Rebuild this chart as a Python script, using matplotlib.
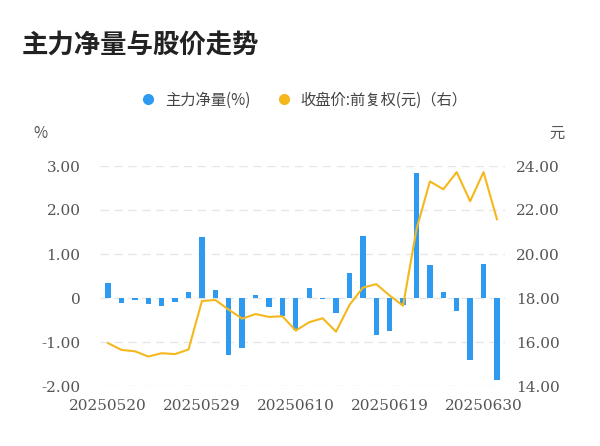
import matplotlib
matplotlib.use("Agg")
import matplotlib.pyplot as plt
from matplotlib.lines import Line2D
from matplotlib import font_manager as fm

cjk = None
for f in fm.fontManager.ttflist:
    if "CJK" in f.name and ("SC" in f.name or cjk is None):
        cjk = f.name
if cjk is None:
    for f in fm.findSystemFonts():
        if "CJK" in f or "Noto" in f and "SC" in f:
            fm.fontManager.addfont(f)
            cjk = fm.FontProperties(fname=f).get_name()
            break
plt.rcParams['font.family'] = [cjk or 'Noto Sans CJK SC', 'DejaVu Sans']

dates = ["20250520","20250521","20250522","20250523","20250526","20250527","20250528","20250529",
         "20250530","20250603","20250604","20250605","20250606","20250609","20250610","20250611",
         "20250612","20250613","20250616","20250617","20250618","20250619","20250620","20250623",
         "20250624","20250625","20250626","20250627","20250630","20250701"]
net_flow = [0.34,-0.12,-0.05,-0.13,-0.18,-0.08,0.14,1.38,0.19,-1.30,-1.13,0.06,-0.20,-0.40,-0.72,
            0.22,-0.02,-0.33,0.57,1.40,-0.85,-0.74,-0.17,2.83,0.75,0.13,-0.30,-1.40,0.77,-1.87]
price = [15.95,15.64,15.58,15.34,15.49,15.45,15.66,17.86,17.91,17.47,17.06,17.27,17.14,17.17,16.52,
         16.90,17.08,16.47,17.68,18.47,18.63,18.11,17.65,21.13,23.30,22.94,23.72,22.40,23.72,21.58]
left_ticks = [-2, -1, 0, 1, 2, 3]
left_labels = ["-2.00", "-1.00", "0", "1.00", "2.00", "3.00"]
right_ticks = [14, 16, 18, 20, 22, 24]
right_labels = ["14.00", "16.00", "18.00", "20.00", "22.00", "24.00"]
label_idx = [0, 7, 14, 21, 28]

fig = plt.figure(figsize=(6.0, 4.46), dpi=100)
ax = fig.add_axes([100/600, 1-386/446, 405/600, 220/446])
x = list(range(len(dates)))
ax.bar(x, net_flow, width=0.4, color="#2e9bf0", zorder=3)
ax.set_ylim(-2, 3)
ax.set_xlim(-0.6, len(dates)-0.4)
ax.set_yticks(left_ticks)
ax.set_yticklabels(left_labels)
ax.set_xticks(label_idx)
ax.set_xticklabels([dates[i] for i in label_idx])
ax.grid(axis='y', color="#e6e6e6", linestyle=(0, (6, 4)), linewidth=1, zorder=0)
for s in ax.spines.values():
    s.set_visible(False)
ax.tick_params(axis='y', length=0, colors="#555555", labelsize=11, pad=14)
ax.tick_params(axis='x', length=0, colors="#555555", labelsize=11, pad=9)
for t in ax.get_yticklabels() + ax.get_xticklabels():
    t.set_fontfamily("DejaVu Serif")

ax2 = ax.twinx()
ax2.plot(x, price, color="#f5b81c", linewidth=1.5, zorder=4)
ax2.set_ylim(14, 24)
ax2.set_yticks(right_ticks)
ax2.set_yticklabels(right_labels)
for s in ax2.spines.values():
    s.set_visible(False)
ax2.tick_params(length=0, colors="#555555", labelsize=11, pad=8)
for t in ax2.get_yticklabels():
    t.set_fontfamily("DejaVu Serif")

fig.text(22/600, 1-45/446, "主力净量与股价走势", fontsize=19, fontweight='bold', color="#222222", va='center')
fig.text(40/600, 1-133/446, "%", fontsize=11, color="#555555", va='center', ha='center')
fig.text(557/600, 1-133/446, "元", fontsize=11, color="#555555", va='center', ha='center')
h1 = Line2D([], [], marker='o', linestyle='none', color="#2e9bf0", markersize=7)
h2 = Line2D([], [], marker='o', linestyle='none', color="#f5b81c", markersize=7)
fig.legend([h1, h2], ["主力净量(%)", "收盘价:前复权(元)（右）"], loc='center',
           bbox_to_anchor=(0.5, 1-100/446), ncol=2, frameon=False, fontsize=11,
           handletextpad=0.1, columnspacing=1.2, labelcolor="#444444")
fig.savefig("out.png", dpi=100)
